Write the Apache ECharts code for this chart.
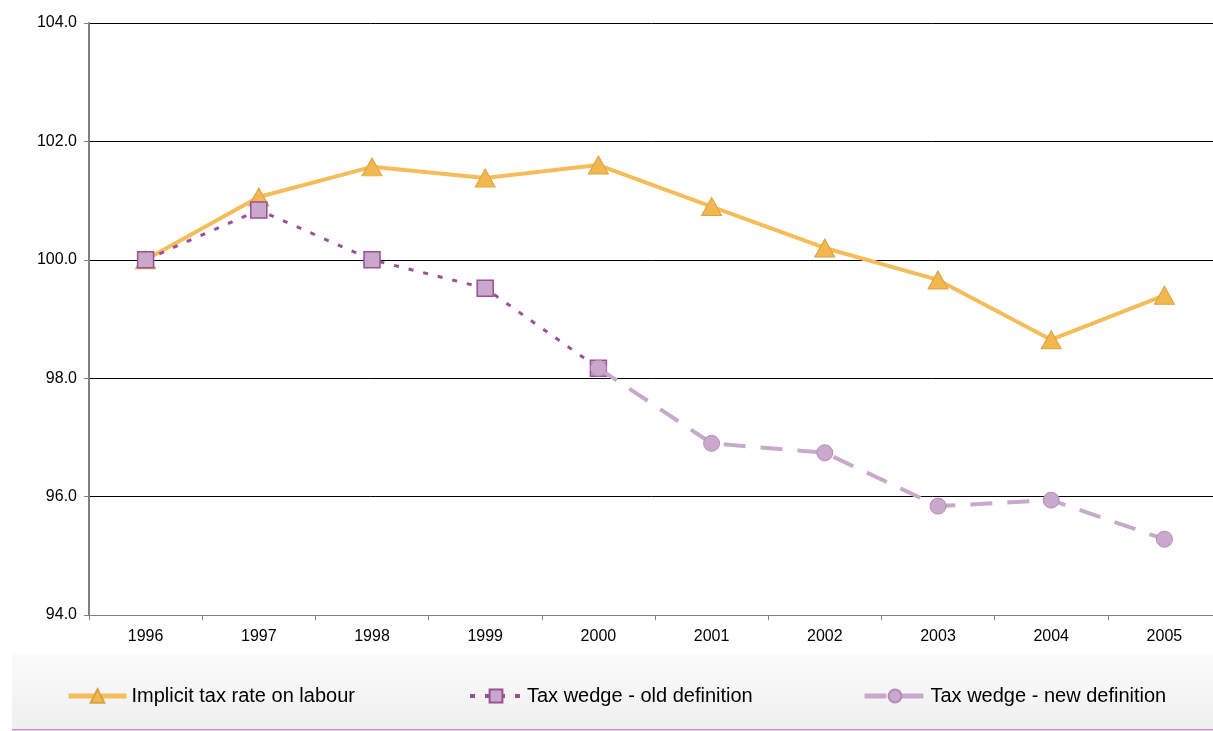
<!doctype html>
<html lang="en">
<head>
    <meta charset="UTF-8">
    <title>Implicit tax rate on labour vs tax wedge</title>
    <script type="text/javascript" src="https://cdn.jsdelivr.net/npm/echarts@6/dist/echarts.min.js"></script>
    <style>
        html, body { margin: 0; padding: 0; background: #fff; }
        #chart { width: 1213px; height: 731px; }
    </style>
</head>
<body>
<div id="chart"></div>
<script>
    // years on the x axis
    var years = ['1996', '1997', '1998', '1999', '2000', '2001', '2002', '2003', '2004', '2005'];
    // index values (1996 = 100)
    var implicitRate = [100.0, 101.06, 101.57, 101.38, 101.6, 100.9, 100.2, 99.66, 98.65, 99.4];
    var wedgeOld = [100.0, 100.84, 100.0, 99.52, 98.17, null, null, null, null, null];
    var wedgeNew = [null, null, null, null, 98.17, 96.9, 96.74, 95.84, 95.94, 95.28];
    var seriesNames = ['Implicit tax rate on labour', 'Tax wedge - old definition', 'Tax wedge - new definition'];

    var chart = echarts.init(document.getElementById('chart'));

    var legendText = { fontFamily: 'Liberation Sans, Arial, sans-serif', fontSize: 20, color: '#000' };

    chart.setOption({
        animation: false,
        textStyle: { fontFamily: 'Liberation Sans, Arial, sans-serif' },
        graphic: [
            {
                type: 'rect',
                z: -10,
                shape: { x: 12, y: 654, width: 1201, height: 75 },
                style: {
                    fill: {
                        type: 'linear', x: 0, y: 0, x2: 0, y2: 1,
                        colorStops: [{ offset: 0, color: '#fbfbfb' }, { offset: 1, color: '#efefef' }]
                    }
                }
            },
            {
                type: 'rect',
                z: -9,
                shape: { x: 12, y: 729, width: 1201, height: 1.5 },
                style: { fill: '#c98fc9' }
            }
        ],
        // plot runs past the right edge of the picture, as in the original
        grid: { left: 89, width: 1132, top: 23, bottom: 116, containLabel: false, outerBoundsMode: 'none' },
        legend: [
            {
                data: [seriesNames[0]], left: 66, top: 686, padding: 0,
                itemWidth: 58, itemHeight: 17, itemGap: 0,
                lineStyle: { width: 5 },
                textStyle: legendText
            },
            {
                data: [seriesNames[1]], left: 468, top: 686, padding: 0,
                itemWidth: 52, itemHeight: 16, itemGap: 0,
                lineStyle: { width: 4 },
                textStyle: legendText
            },
            {
                data: [seriesNames[2]], left: 862, top: 686, padding: 0,
                itemWidth: 61, itemHeight: 16, itemGap: 0,
                lineStyle: { width: 5 },
                textStyle: legendText
            }
        ],
        xAxis: {
            type: 'category',
            data: years,
            boundaryGap: true,
            axisLine: { lineStyle: { color: '#808080', width: 1 } },
            axisTick: { show: true, length: 5, lineStyle: { color: '#808080' } },
            axisLabel: { color: '#000', fontSize: 16, margin: 14 }
        },
        yAxis: {
            type: 'value',
            min: 94,
            max: 104,
            interval: 2,
            axisLine: { show: true, lineStyle: { color: '#808080', width: 2 } },
            axisTick: { show: true, length: 5, lineStyle: { color: '#808080' } },
            axisLabel: {
                color: '#000', fontSize: 16, margin: 12,
                formatter: function (v) { return v.toFixed(1); }
            },
            splitLine: { lineStyle: { color: '#000', width: 1 } }
        },
        series: [
            {
                name: seriesNames[0],
                type: 'line',
                data: implicitRate,
                symbol: 'triangle',
                symbolSize: [20, 18],
                lineStyle: { color: '#f5bd5a', width: 4 },
                itemStyle: { color: '#f2b84e', borderColor: '#d9a244', borderWidth: 1 },
                z: 2
            },
            {
                name: seriesNames[1],
                type: 'line',
                data: wedgeOld,
                symbol: 'rect',
                symbolSize: 16,
                lineStyle: { color: '#9b4f97', width: 3, type: [5, 10] },
                itemStyle: { color: '#c9a9cb', borderColor: '#9b4f97', borderWidth: 1.5 },
                z: 3
            },
            {
                name: seriesNames[2],
                type: 'line',
                data: wedgeNew,
                symbol: 'circle',
                symbolSize: 16,
                lineStyle: { color: '#c9a9cb', width: 4, type: [22, 15] },
                itemStyle: { color: '#c9a9cb', borderColor: '#b58ab6', borderWidth: 1 },
                z: 4
            }
        ]
    });
</script>
</body>
</html>
